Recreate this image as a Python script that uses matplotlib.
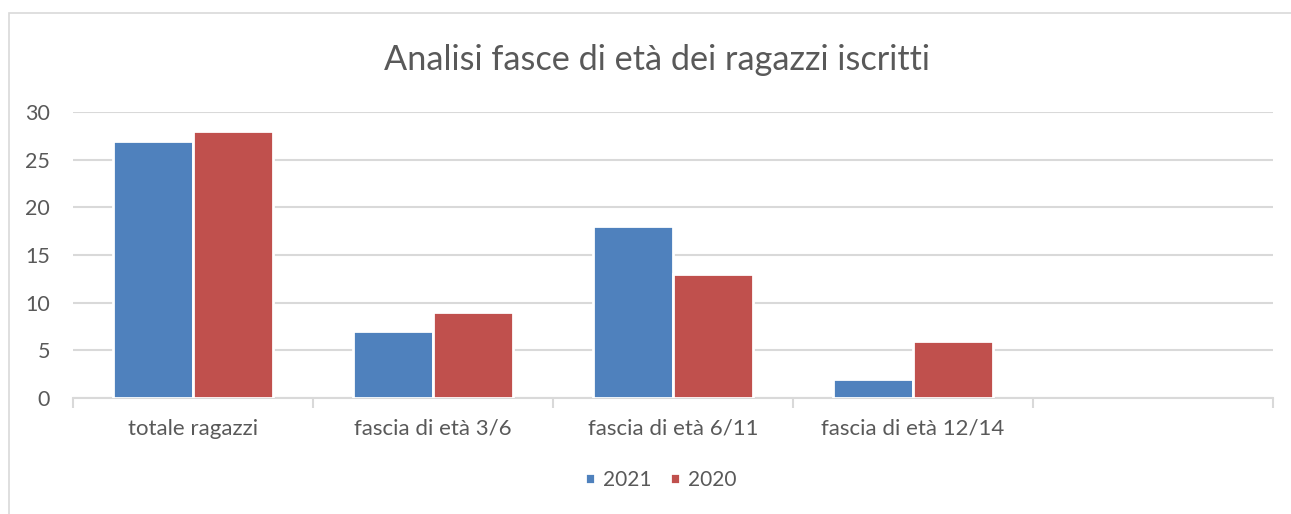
import matplotlib
matplotlib.use("Agg")
import matplotlib.pyplot as plt
from matplotlib.patches import Rectangle
import numpy as np

plt.rcParams['font.family'] = ['Lato', 'DejaVu Sans']

categories = ["totale ragazzi", "fascia di età 3/6", "fascia di età 6/11", "fascia di età 12/14", ""]
val_2021 = [27, 7, 18, 2]
val_2020 = [28, 9, 13, 6]
title = "Analisi fasce di età dei ragazzi iscritti"

blue = "#4F81BD"
red = "#C0504D"
grey = "#D9D9D9"
txt = "#595959"

fig = plt.figure(figsize=(12.91, 5.14), dpi=100)
# chart frame (partially cut off on right and bottom)
fig.patches.append(Rectangle((9 / 1291, -0.05), 1.2, (514 - 13) / 514 + 0.05,
                             transform=fig.transFigure, fill=False,
                             edgecolor=grey, lw=1.2))

ax = fig.add_axes([73 / 1291, 116 / 514, 1200 / 1291, 286 / 514])
x = np.arange(len(categories))
xb = np.arange(len(val_2021))
w = 1 / 3
ax.bar(xb - w / 2, val_2021, w, color=blue, edgecolor="white", lw=2, label="2021", zorder=3)
ax.bar(xb + w / 2, val_2020, w, color=red, edgecolor="white", lw=2, label="2020", zorder=3)

ax.set_xlim(-0.5, len(categories) - 0.5)
ax.set_ylim(0, 30)
ax.set_yticks(range(0, 31, 5))
ax.yaxis.grid(True, color=grey, lw=1.5, zorder=0)
ax.tick_params(axis='y', length=0, pad=16.5, labelsize=15.5, labelcolor=txt)

ax.set_xticks(x)
ax.set_xticklabels(categories)
ax.tick_params(axis='x', which='major', length=0, pad=15, labelsize=16, labelcolor=txt)
ax.set_xticks(np.arange(-0.5, len(categories)), minor=True)
ax.tick_params(axis='x', which='minor', length=7, width=1.5, color=grey, direction='out')

for s in ["top", "right", "left"]:
    ax.spines[s].set_visible(False)
ax.spines["bottom"].set_color(grey)
ax.spines["bottom"].set_linewidth(1.5)

fig.text(657 / 1291, 1 - 60 / 514, title, ha="center", va="center", fontsize=24.7, color=txt)

ax.legend(loc="center", bbox_to_anchor=(661 / 1291, 1 - 480 / 514), bbox_transform=fig.transFigure,
          ncol=2, frameon=False, fontsize=15, labelcolor=txt, handlelength=0.45, handleheight=0.45,
          handletextpad=0.4, columnspacing=0.9)

fig.savefig("out.png", dpi=100)
